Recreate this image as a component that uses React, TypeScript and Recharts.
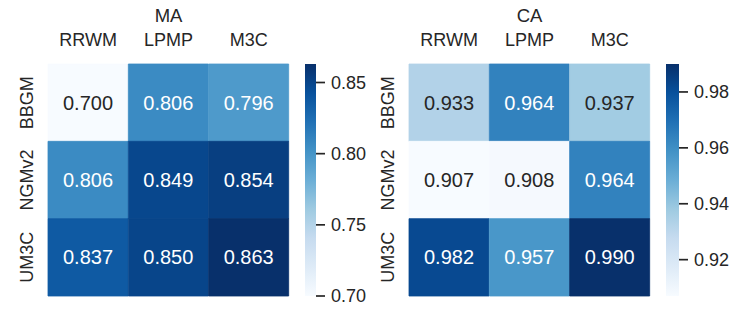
import React from "react";
import { BarChart, Bar, XAxis, YAxis, Cell, LabelList } from "recharts";

const cols = ["RRWM", "LPMP", "M3C"];
const rows = ["BBGM", "NGMv2", "UM3C"];
const maValues = [
  [0.7, 0.806, 0.796],
  [0.806, 0.849, 0.854],
  [0.837, 0.85, 0.863],
];
const caValues = [
  [0.933, 0.964, 0.937],
  [0.907, 0.908, 0.964],
  [0.982, 0.957, 0.99],
];
const maTicks = [0.7, 0.75, 0.8, 0.85];
const caTicks = [0.92, 0.94, 0.96, 0.98];

// matplotlib "Blues"
const BLUES = ["#f7fbff", "#deebf7", "#c6dbef", "#9ecae1", "#6baed6", "#4292c6", "#2171b5", "#08519c", "#08306b"];
const DARK = "#262626";
const FONT = "'Liberation Sans', Arial, Helvetica, sans-serif";

const hexToRgb = (h: string) => [1, 3, 5].map((i) => parseInt(h.slice(i, i + 2), 16));

function blues(t: number): number[] {
  const c = Math.max(0, Math.min(1, t));
  const p = c * (BLUES.length - 1);
  const i = Math.min(BLUES.length - 2, Math.floor(p));
  const f = p - i;
  const a = hexToRgb(BLUES[i]);
  const b = hexToRgb(BLUES[i + 1]);
  return a.map((v, k) => Math.round(v + (b[k] - v) * f));
}

const rgbStr = (c: number[]) => `rgb(${c[0]},${c[1]},${c[2]})`;

// seaborn picks dark or white annotation text by luminance
function luminance(c: number[]) {
  const lin = c.map((v) => {
    const s = v / 255;
    return s <= 0.03928 ? s / 12.92 : Math.pow((s + 0.055) / 1.055, 2.4);
  });
  return 0.2126 * lin[0] + 0.7152 * lin[1] + 0.0722 * lin[2];
}

function Panel({
  title,
  values,
  ticks,
  left,
  gradId,
  cbWidth,
}: {
  title: string;
  values: number[][];
  ticks: number[];
  left: number;
  gradId: string;
  cbWidth: number;
}) {
  const flat = values.flat();
  const vmin = Math.min(...flat);
  const vmax = Math.max(...flat);
  const norm = (v: number) => (v - vmin) / (vmax - vmin);

  // one stacked column per method, one unit-high segment per row
  const data = cols.map((col, ci) => {
    const d: any = { col };
    rows.forEach((row, ri) => {
      d[row] = 1;
      d["v_" + row] = values[ri][ci];
    });
    return d;
  });

  const RowTick = (props: any) => {
    const { x, y, payload } = props;
    const name = rows[Math.floor(payload.value)];
    return (
      <text
        x={x}
        y={y}
        transform={`rotate(-90, ${x}, ${y})`}
        textAnchor="middle"
        fontSize={18}
        fill={DARK}
      >
        {name}
      </text>
    );
  };

  const renderAnnot = (props: any) => {
    const { x, y, width, height, value } = props;
    const col = blues(norm(Number(value)));
    const fill = luminance(col) > 0.408 ? DARK : "#ffffff";
    return (
      <text
        x={Number(x) + Number(width) / 2}
        y={Number(y) + Number(height) / 2}
        textAnchor="middle"
        dominantBaseline="central"
        fontSize={20}
        fill={fill}
      >
        {Number(value).toFixed(3)}
      </text>
    );
  };

  const stops = [...BLUES].reverse();

  return (
    <>
      <div
        style={{
          position: "absolute",
          left: left + 48,
          top: 7,
          width: 241,
          textAlign: "center",
          fontSize: 18.5,
          lineHeight: "18px",
          color: DARK,
        }}
      >
        {title}
      </div>
      <div style={{ position: "absolute", left, top: 0 }}>
        <BarChart
          width={300}
          height={310}
          data={data}
          margin={{ top: 34, right: 11, bottom: 14, left: 18 }}
          barCategoryGap={0}
          barGap={0}
        >
          <XAxis
            dataKey="col"
            orientation="top"
            height={30}
            axisLine={false}
            tickLine={false}
            tickSize={0}
            tickMargin={18}
            tick={{ fontSize: 18, fill: DARK }}
            interval={0}
          />
          <YAxis
            type="number"
            domain={[0, rows.length]}
            ticks={rows.map((_, i) => i + 0.5)}
            reversed
            width={30}
            axisLine={false}
            tickLine={false}
            tickSize={0}
            tickMargin={15}
            tick={RowTick}
            interval={0}
          />
          {rows.map((row) => (
            <Bar key={row} dataKey={row} stackId="a" isAnimationActive={false}>
              {data.map((d, ci) => {
                const c = rgbStr(blues(norm(d["v_" + row])));
                return <Cell key={ci} fill={c} stroke={c} strokeWidth={0.8} />;
              })}
              <LabelList dataKey={"v_" + row} content={renderAnnot} />
            </Bar>
          ))}
        </BarChart>
      </div>
      <div style={{ position: "absolute", left: left + 300, top: 0 }}>
        <BarChart
          width={80}
          height={310}
          data={[{ k: "cb", v: vmax }]}
          margin={{ top: 64, right: 35 - cbWidth, bottom: 14, left: 5 }}
          barCategoryGap={0}
        >
          <defs>
            <linearGradient id={gradId} x1="0" y1="0" x2="0" y2="1">
              {stops.map((c, i) => (
                <stop key={i} offset={`${(i / (stops.length - 1)) * 100}%`} stopColor={c} />
              ))}
            </linearGradient>
          </defs>
          <XAxis dataKey="k" hide />
          <YAxis
            type="number"
            orientation="right"
            domain={[vmin, vmax]}
            ticks={ticks}
            allowDataOverflow
            width={40}
            axisLine={false}
            tickLine={{ stroke: DARK, strokeWidth: 1.7 }}
            tickSize={9}
            tickMargin={6}
            tick={{ fontSize: 18, fill: DARK }}
            tickFormatter={(v: number) => v.toFixed(2)}
            interval={0}
          />
          <Bar dataKey="v" fill={`url(#${gradId})`} isAnimationActive={false} />
        </BarChart>
      </div>
    </>
  );
}

export default function App() {
  return (
    <div
      style={{
        position: "absolute",
        left: 0,
        top: 0,
        width: 732,
        height: 310,
        background: "#ffffff",
        fontFamily: FONT,
        overflow: "hidden",
      }}
    >
      <Panel title="MA" values={maValues} ticks={maTicks} left={0} gradId="gradMA" cbWidth={11} />
      <Panel title="CA" values={caValues} ticks={caTicks} left={361} gradId="gradCA" cbWidth={13} />
    </div>
  );
}
